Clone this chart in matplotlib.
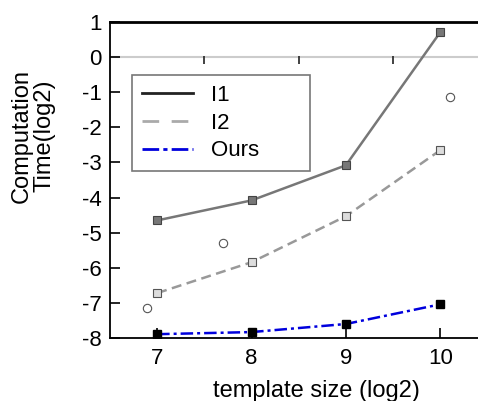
import matplotlib
matplotlib.use("Agg")
import matplotlib.pyplot as plt
from matplotlib.lines import Line2D

plt.rcParams['font.family'] = ['Liberation Sans', 'DejaVu Sans']
plt.rcParams['axes.unicode_minus'] = False

sizes = [7, 8, 9, 10]
i1 = [-4.65, -4.08, -3.08, 0.71]
i2 = [-6.72, -5.84, -4.53, -2.65]
ours = [-7.89, -7.83, -7.60, -7.04]
extra_x = [6.89, 7.70, 10.10]
extra_y = [-7.15, -5.30, -1.14]
zero_marks = [7.5, 8.5, 9.5]
yticks = [1, 0, -1, -2, -3, -4, -5, -6, -7, -8]
legend_labels = ['I1', 'I2', 'Ours']

fig = plt.figure(figsize=(4.78, 4.01), dpi=100)
ax = fig.add_axes([0.230, 0.157, 0.770, 0.788])

ax.axhline(0, color='#cccccc', lw=1.5, zorder=0)
ax.plot(zero_marks, [-0.08] * len(zero_marks), ls='none', marker='|', ms=6,
        mew=1.3, color='#333333')

ax.plot(sizes, i1, color='#777777', lw=1.8, marker='s', ms=6,
        mfc='#777777', mec='#444444', mew=0.8)
ax.plot(sizes, i2, color='#999999', lw=1.8, ls=(0, (4, 2.2)), marker='s', ms=6,
        mfc='#dddddd', mec='#555555', mew=0.8)
ax.plot(sizes, ours, color='#0000dd', lw=1.8, ls=(0, (5, 1.6, 1.2, 1.6)),
        marker='s', ms=6, mfc='black', mec='black', zorder=5)
ax.plot(extra_x, extra_y, ls='none', marker='o', ms=6, mfc='white',
        mec='#555555', mew=0.8)

ax.set_xlim(6.5, 10.4)
ax.set_ylim(-8, 1)
ax.set_xticks(sizes)
ax.set_yticks(yticks)
ax.tick_params(direction='in', length=7, width=1.2, labelsize=16, pad=6)
ax.tick_params(axis='x', pad=7)
ax.spines['right'].set_visible(False)
ax.spines['top'].set_linewidth(2)
ax.spines['left'].set_linewidth(1.3)
ax.spines['bottom'].set_linewidth(1.3)

ax.set_xlabel('template size (log2)', fontsize=17)
ax.xaxis.set_label_coords(0.56, -0.133)
ax.set_ylabel('Computation\nTime(log2)', fontsize=17, linespacing=1.0)
ax.yaxis.set_label_coords(-0.149, 0.64)

handles = [
    Line2D([], [], color='#222222', lw=2),
    Line2D([], [], color='#aaaaaa', lw=2, ls=(0, (6, 4.5))),
    Line2D([], [], color='#0000dd', lw=2, ls=(0, (6, 1.5, 1.5, 1.5))),
]
leg = ax.legend(handles, legend_labels, loc='upper left',
                bbox_to_anchor=(0.060, 0.532, 0.484, 0.300), mode='expand',
                fontsize=16, frameon=True,
                fancybox=False, edgecolor='#555555', handlelength=2.3,
                borderpad=0.45, labelspacing=0.3, handletextpad=0.8,
                borderaxespad=0)
leg.get_frame().set_linewidth(1.2)

fig.savefig('out.png', dpi=100)
